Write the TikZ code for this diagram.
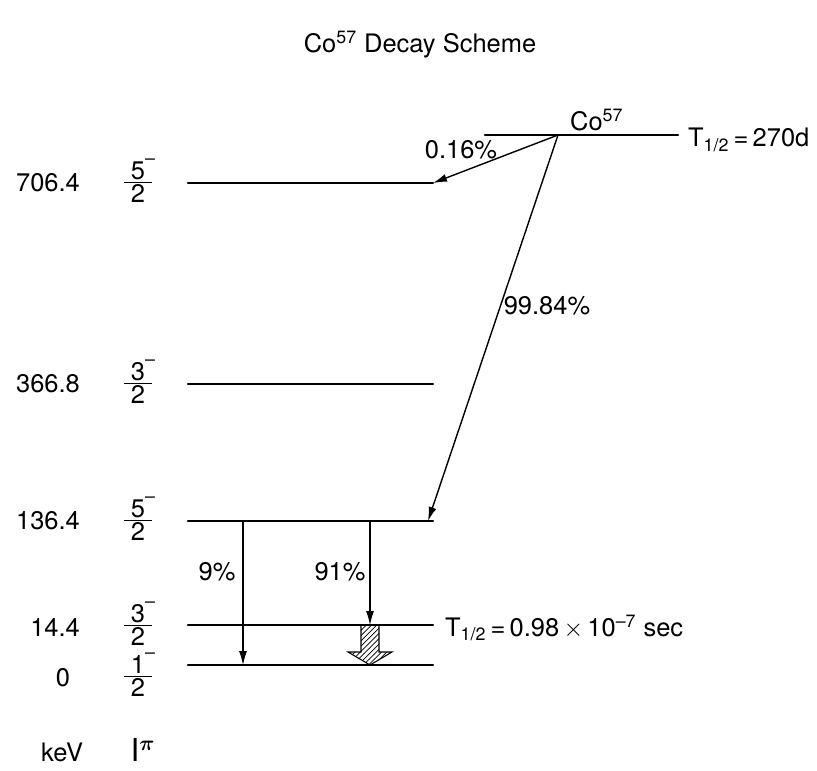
\documentclass[tikz,border=0pt]{standalone}
\usepackage{fontspec}
\setmainfont{TeX Gyre Heros}
\usepackage{amsmath}
\usetikzlibrary{arrows.meta,patterns,positioning}
\tikzset{
  nivel/.style={line width=1.4pt,line cap=round},
  flecha/.style={-{Latex[length=2.8mm,width=1.6mm]},line width=0.8pt},
  etiqueta/.style={font=\fontsize{14.5}{16}\selectfont,inner sep=1pt},
  espin/.style={etiqueta,inner sep=0pt,anchor=base},
}
\newcommand{\espinfrac}[1]{$\genfrac{}{}{0.8pt}{1}{\mbox{\;#1\rlap{\raisebox{3pt}{\textsuperscript{--}}}\;}}{\mbox{\;2\;}}$}

\begin{document}
\begin{tikzpicture}[x=0.02cm,y=-0.02cm,
  energia/.style={etiqueta,anchor=east},
  gamma/.style={flecha,line width=0.6pt}]
  \useasboundingbox (0,0) rectangle (817,770);
  \node[etiqueta] (titulo) at (420,45) {Co\textsuperscript{57} Decay Scheme};
  % niveles
  \foreach \nombre/\y in {l706/183,l367/384,l136/521,l14/625,l0/665}
    \draw[nivel] (188,\y) coordinate (\nombre-a) -- (433,\y) coordinate (\nombre-b);
  \draw[nivel] (485,135) coordinate (co-a) -- (678,135) coordinate (co-b);
  \coordinate (co) at (558,135);
  \node[etiqueta,anchor=south west] (co-nombre) at (568,133) {Co\textsuperscript{57}};
  \node[etiqueta,anchor=west] (co-vida) at (686,140) {T\textsubscript{1/2}\,=\,270d};
  % energias y espines
  \foreach \nombre/\e/\y in {e706/706.4/183,e367/366.8/384,e136/136.4/521,e14/14.4/627}
    \node[energia] (\nombre) at (82,\y) {\e};
  \node[etiqueta] (e0) at (63,678) {0};
  \foreach \nombre/\n/\y in {s706/5/183,s367/3/384,s136/5/521,s14/3/626,s0/1/677}
    \node[espin] (\nombre) at (138,\y+6) {\espinfrac{\n}};
  \node[etiqueta] (kev) at (62,752) {keV};
  \node[etiqueta,font=\fontsize{18}{20}\selectfont] (ipi) at (143,750) {$\mathrm{I}^{\boldsymbol{\pi}}$};
  % desintegracion beta
  \coordinate (d136) at (428,521);
  \draw[flecha] (co) -- (l706-b);
  \draw[flecha] (co) -- (d136);
  \node[etiqueta] (p016) at (461,150) {0.16\%};
  \node[etiqueta] (p9984) at (547,306) {99.84\%};
  % gammas
  \coordinate (g9) at (243,521);
  \coordinate (g91) at (370,521);
  \draw[gamma] (g9) -- (g9 |- l0-a);
  \draw[gamma] (g91) -- (g91 |- l14-a);
  \node[etiqueta] (p9) at (217,572) {9\%};
  \node[etiqueta] (p91) at (340,572) {91\%};
  \draw[pattern=north east lines,line width=0.6pt] (g91 |- l14-a) -- ++(-9,0) -- ++(0,27) -- ++(-13,0)
    -- (g91 |- l0-a) -- ++(22,-13) -- ++(-13,0) -- ++(0,-27) -- cycle;
  \node[etiqueta,anchor=west] (l14-vida) at (443,628) {T\textsubscript{1/2}\,=\,0.98\,$\times$\,10\textsuperscript{--7} sec};
\end{tikzpicture}
\end{document}
